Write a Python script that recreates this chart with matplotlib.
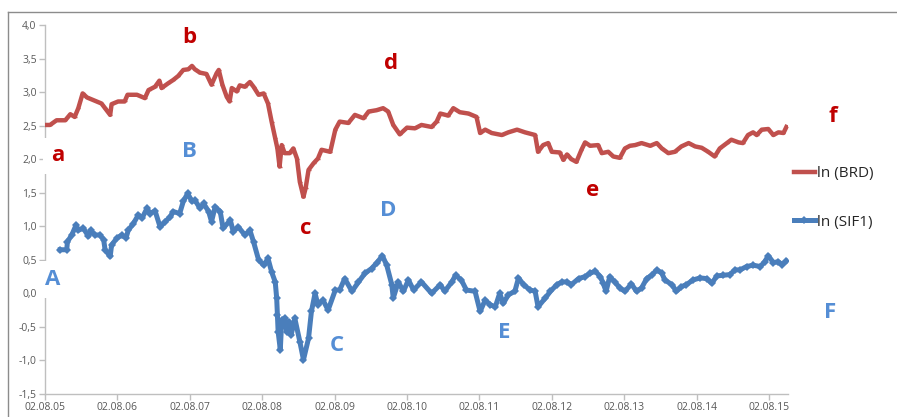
import matplotlib
matplotlib.use("Agg")
import matplotlib.pyplot as plt
from matplotlib.lines import Line2D
from matplotlib.ticker import FixedLocator, FuncFormatter

# Time axis: years elapsed since 02.08.2005
brd_t = [0.00, 0.07, 0.16, 0.28, 0.35, 0.41, 0.46, 0.52, 0.58, 0.67, 0.78, 0.83,
         0.90, 0.92, 1.01, 1.10, 1.14, 1.27, 1.38, 1.43, 1.52, 1.58, 1.61, 1.70,
         1.77, 1.84, 1.91, 1.98, 2.03, 2.07, 2.14, 2.23, 2.30, 2.37, 2.40, 2.45,
         2.51, 2.55, 2.58, 2.65, 2.69, 2.76, 2.83, 2.88, 2.95, 3.02, 3.08, 3.13,
         3.18, 3.21, 3.24, 3.27, 3.31, 3.38, 3.43, 3.48, 3.52, 3.57, 3.60, 3.64,
         3.71, 3.77, 3.82, 3.94, 4.01, 4.07, 4.19, 4.28, 4.40, 4.47, 4.58, 4.67,
         4.74, 4.81, 4.90, 5.00, 5.11, 5.20, 5.34, 5.41, 5.46, 5.57, 5.64, 5.73,
         5.85, 5.96, 6.01, 6.08, 6.17, 6.31, 6.40, 6.52, 6.63, 6.77, 6.81, 6.88,
         6.95, 7.00, 7.11, 7.16, 7.21, 7.27, 7.34, 7.41, 7.46, 7.53, 7.64, 7.69,
         7.78, 7.85, 7.94, 8.01, 8.08, 8.15, 8.24, 8.36, 8.45, 8.52, 8.61, 8.70,
         8.79, 8.89, 8.98, 9.07, 9.16, 9.25, 9.32, 9.42, 9.48, 9.58, 9.64, 9.71,
         9.78, 9.83, 9.90, 9.99, 10.06, 10.13, 10.20, 10.24]
brd_ln = [2.51, 2.51, 2.58, 2.58, 2.67, 2.63, 2.76, 2.98, 2.92, 2.88, 2.83, 2.76,
          2.66, 2.82, 2.86, 2.86, 2.96, 2.96, 2.91, 3.03, 3.08, 3.17, 3.06, 3.13,
          3.18, 3.24, 3.33, 3.34, 3.39, 3.34, 3.29, 3.27, 3.11, 3.28, 3.33, 3.11,
          2.93, 2.86, 3.06, 3.01, 3.10, 3.08, 3.15, 3.08, 2.96, 2.98, 2.83, 2.56,
          2.31, 2.16, 1.89, 2.21, 2.09, 2.09, 2.16, 2.01, 1.66, 1.44, 1.57, 1.84,
          1.94, 2.01, 2.14, 2.11, 2.44, 2.56, 2.54, 2.66, 2.61, 2.71, 2.73, 2.76,
          2.71, 2.51, 2.37, 2.47, 2.46, 2.51, 2.48, 2.56, 2.68, 2.65, 2.76, 2.70,
          2.68, 2.63, 2.39, 2.44, 2.39, 2.36, 2.40, 2.44, 2.40, 2.36, 2.11, 2.21,
          2.24, 2.11, 2.10, 1.99, 2.07, 2.00, 1.96, 2.14, 2.25, 2.20, 2.21, 2.09,
          2.11, 2.04, 2.02, 2.16, 2.20, 2.21, 2.24, 2.20, 2.24, 2.16, 2.09, 2.11,
          2.19, 2.24, 2.19, 2.17, 2.11, 2.04, 2.16, 2.24, 2.29, 2.25, 2.24, 2.36,
          2.40, 2.36, 2.44, 2.45, 2.36, 2.40, 2.39, 2.48]

sif_t = [0.21, 0.30, 0.31, 0.37, 0.43, 0.46, 0.53, 0.60, 0.63, 0.69, 0.76, 0.81,
         0.83, 0.90, 0.92, 0.99, 1.06, 1.12, 1.15, 1.22, 1.29, 1.34, 1.41, 1.45,
         1.52, 1.59, 1.66, 1.73, 1.77, 1.86, 1.91, 1.97, 2.03, 2.07, 2.14, 2.19,
         2.26, 2.30, 2.35, 2.42, 2.46, 2.56, 2.60, 2.67, 2.76, 2.83, 2.88, 2.95,
         3.02, 3.08, 3.13, 3.18, 3.20, 3.21, 3.22, 3.25, 3.27, 3.31, 3.34, 3.37,
         3.40, 3.45, 3.52, 3.57, 3.64, 3.68, 3.73, 3.77, 3.84, 3.91, 4.01, 4.07,
         4.14, 4.24, 4.33, 4.42, 4.51, 4.58, 4.66, 4.72, 4.79, 4.81, 4.88, 4.95,
         5.02, 5.09, 5.20, 5.34, 5.46, 5.52, 5.62, 5.67, 5.75, 5.82, 5.94, 6.01,
         6.08, 6.15, 6.22, 6.28, 6.33, 6.40, 6.49, 6.54, 6.61, 6.70, 6.77, 6.81,
         6.91, 6.98, 7.07, 7.14, 7.21, 7.27, 7.37, 7.46, 7.53, 7.60, 7.67, 7.71,
         7.75, 7.80, 7.87, 7.94, 8.01, 8.10, 8.17, 8.24, 8.31, 8.38, 8.45, 8.52,
         8.56, 8.66, 8.72, 8.79, 8.86, 8.95, 9.05, 9.14, 9.21, 9.28, 9.37, 9.46,
         9.53, 9.60, 9.69, 9.78, 9.88, 9.94, 9.99, 10.06, 10.13, 10.18, 10.24]
sif_ln = [0.65, 0.65, 0.77, 0.87, 1.02, 0.94, 0.97, 0.85, 0.94, 0.87, 0.87, 0.80,
          0.65, 0.55, 0.72, 0.82, 0.87, 0.83, 0.94, 1.04, 1.17, 1.12, 1.27, 1.19,
          1.23, 0.99, 1.07, 1.14, 1.22, 1.19, 1.37, 1.49, 1.37, 1.39, 1.27, 1.34,
          1.22, 1.07, 1.29, 1.22, 0.97, 1.09, 0.92, 0.99, 0.87, 0.94, 0.77, 0.50,
          0.42, 0.52, 0.32, 0.17, -0.07, -0.32, -0.57, -0.84, -0.40, -0.37, -0.57, -0.42,
          -0.62, -0.37, -0.72, -0.99, -0.67, -0.27, 0.00, -0.17, -0.10, -0.25, 0.05, 0.05,
          0.22, 0.03, 0.17, 0.30, 0.37, 0.45, 0.56, 0.42, 0.13, -0.07, 0.17, 0.03,
          0.20, 0.05, 0.17, 0.00, 0.13, 0.03, 0.17, 0.27, 0.20, 0.05, 0.03, -0.27,
          -0.10, -0.17, -0.20, 0.00, -0.15, -0.02, 0.03, 0.23, 0.13, 0.05, 0.03, -0.20,
          -0.07, 0.03, 0.13, 0.17, 0.17, 0.13, 0.22, 0.25, 0.30, 0.33, 0.25, 0.15,
          0.03, 0.25, 0.17, 0.08, 0.03, 0.14, 0.03, 0.08, 0.22, 0.27, 0.35, 0.30,
          0.20, 0.13, 0.03, 0.10, 0.13, 0.20, 0.23, 0.22, 0.15, 0.26, 0.27, 0.28,
          0.35, 0.35, 0.40, 0.42, 0.40, 0.47, 0.56, 0.46, 0.47, 0.43, 0.48]

tick_labels = ["02.08.05", "02.08.06", "02.08.07", "02.08.08", "02.08.09", "02.08.10",
               "02.08.11", "02.08.12", "02.08.13", "02.08.14", "02.08.15"]
y_ticks = [-1.5, -1.0, -0.5, 0.0, 0.5, 1.0, 1.5, 2.0, 2.5, 3.0, 3.5, 4.0]

# Phase markers: (letter, t, value)
brd_marks = [("a", 0.17, 2.05), ("b", 2.00, 3.81), ("c", 3.60, 0.97),
             ("d", 4.78, 3.42), ("e", 7.56, 1.53), ("f", 10.88, 2.63)]
sif_marks = [("A", 0.11, 0.21), ("B", 2.00, 2.12), ("C", 4.03, -0.77),
             ("D", 4.74, 1.24), ("E", 6.35, -0.59), ("F", 10.84, -0.28)]

RED = "#c0504d"
BLUE = "#4a7ebb"
RED_TXT = "#c00000"
BLUE_TXT = "#558ed5"
GRID_GRAY = "#bfbfbf"
LABEL_GRAY = "#595959"

plt.rcParams["font.family"] = ["Open Sans", "DejaVu Sans"]

W, H = 897, 417
fig = plt.figure(figsize=(W / 100, H / 100), dpi=100)
ax = fig.add_axes([45 / W, 1 - 394 / H, (788 - 45) / W, (394 - 25) / H])

ax.plot(brd_t, brd_ln, color=RED, lw=3.2, marker="_", ms=3, mew=1,
        solid_joinstyle="round", zorder=4, label="ln (BRD)")
ax.plot(sif_t, sif_ln, color=BLUE, lw=3.6, marker="D", ms=4.2, mew=0,
        solid_joinstyle="round", zorder=4, label="ln (SIF1)")

ax.set_xlim(0, (788 - 45) / 72.4)
ax.set_ylim(-1.5, 4.0)

ax.xaxis.set_major_locator(FixedLocator(range(len(tick_labels))))
ax.set_xticklabels(tick_labels)
ax.yaxis.set_major_locator(FixedLocator(y_ticks))
ax.yaxis.set_major_formatter(FuncFormatter(lambda v, p: f"{v:.1f}".replace(".", ",")))

for side in ("top", "right"):
    ax.spines[side].set_visible(False)
for side in ("left", "bottom"):
    ax.spines[side].set_color(GRID_GRAY)
    ax.spines[side].set_linewidth(1.0)
ax.tick_params(axis="both", direction="out", length=4, width=1, color=GRID_GRAY,
               labelcolor=LABEL_GRAY, labelsize=7.5, pad=2)

for txt, t, v in brd_marks:
    ax.text(t, v, txt, color=RED_TXT, fontsize=16, fontweight="bold",
            ha="center", va="center", clip_on=False, zorder=3,
            bbox=dict(boxstyle="square,pad=0.35", fc="white", ec="none"))
for txt, t, v in sif_marks:
    ax.text(t, v, txt, color=BLUE_TXT, fontsize=16, fontweight="bold",
            ha="center", va="center", clip_on=False, zorder=3,
            bbox=dict(boxstyle="square,pad=0.35", fc="white", ec="none"))

leg = ax.legend(loc="upper left", bbox_to_anchor=(794 / W, 1 - 166 / H),
                bbox_transform=fig.transFigure, frameon=False, fontsize=11,
                handlelength=1.35, handletextpad=0.15, labelspacing=2.2,
                borderpad=0, borderaxespad=0)
for t in leg.get_texts():
    t.set_color("#262626")

# Outer chart frame
fig.add_artist(Line2D([8 / W, 8 / W], [0, 1 - 12 / H], transform=fig.transFigure,
                      color="#8c8c8c", lw=1))
fig.add_artist(Line2D([8 / W, 1], [1 - 12 / H, 1 - 12 / H], transform=fig.transFigure,
                      color="#8c8c8c", lw=1))

fig.savefig("out.png", dpi=100)
